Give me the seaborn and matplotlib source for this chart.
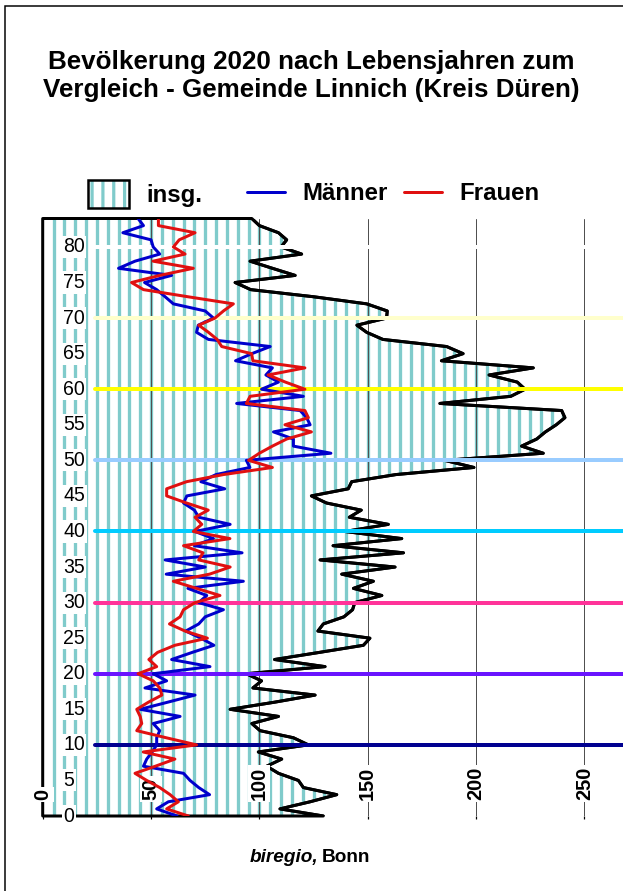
# Bevölkerung 2020 nach Lebensjahren - Gemeinde Linnich
import numpy as np
import matplotlib
matplotlib.use("Agg")
import matplotlib.pyplot as plt
from matplotlib.patches import Patch, Rectangle
from matplotlib.lines import Line2D
import seaborn as sns

sns.set_style("white")
plt.rcParams['font.family'] = ['Liberation Sans', 'DejaVu Sans']
plt.rcParams['text.color'] = 'black'

DPI = 65


def pt(px):
    # pixel size -> points at the figure dpi
    return px * 72 / DPI


# --- data ---
ages = list(range(85))

total = [129.5, 109.5, 123.4, 135.7, 120.3, 118, 108.8, 103.4, 110.3, 99.5,
         122.6, 115.7, 100.3, 96.5, 108.8, 86.5, 107, 125.7, 97, 101,
         94, 130.3, 107, 127.7, 148, 151, 127, 129.5, 139, 143,
         144, 156.5, 143.4, 152.6, 138, 162.6, 128, 166.5, 134, 165.7,
         139.5, 159.5, 141.5, 147, 131, 124, 141, 142.6, 163, 199,
         185.5, 231, 221, 228, 232, 237, 241, 239.5, 183.3, 216,
         222.6, 219, 206, 226.4, 184, 194, 186.4, 157, 149.5, 145,
         158.7, 159, 149.5, 125, 96, 88.8, 116.5, 106, 95.7, 119.5,
         110, 112.6, 108.8, 100, 96.5]

men = [62, 52.6, 58, 77, 72, 68, 65, 46.5, 48, 50.5,
       52.6, 52.6, 54, 51, 63.4, 45, 57.7, 70.3, 47.2, 57.2,
       51, 77.2, 59.5, 69, 79, 73, 66, 72, 75, 83.4,
       72, 75.7, 67, 92.6, 57, 75, 56.5, 92, 70, 78.8,
       70.3, 86.5, 72, 70, 65, 66.5, 84, 73, 80, 95.6,
       94, 133, 115.7, 115.7, 106.5, 123.4, 121.8, 118.8, 89.5, 120.3,
       101, 108.8, 103, 106, 89, 96.5, 105, 76.5, 71, 71.8,
       78.8, 75, 60.3, 56.5, 52.6, 47, 59.5, 35, 42.6, 54,
       51, 50, 37, 46.5, 44]

women = [67.2, 57.2, 62.6, 58.8, 54, 48, 42.6, 52, 61, 46.4,
         71, 57, 43.4, 45.7, 45, 43.4, 48.8, 55, 54, 51,
         44, 52.6, 49, 53, 61, 76, 65.7, 58.5, 63.4, 65,
         70.3, 81.8, 71, 60.3, 77, 86.5, 72, 74, 65, 86.4,
         69.5, 73.4, 70.3, 76.4, 66.4, 57.2, 57.2, 66.4, 83.4, 106,
         95, 100, 106, 112.6, 124, 111.8, 122.6, 121, 94, 95.7,
         121, 112, 104, 121, 97, 96.4, 82.6, 80.5, 76.5, 72,
         79.5, 83.4, 88, 67, 46.5, 41, 54, 69.5, 51, 65.7,
         60.3, 63, 70.3, 53.4, 53.4]

x_ticks = [0, 50, 100, 150, 200, 250]
y_ticks = list(range(0, 85, 5))
ref_ages = [10, 20, 30, 40, 50, 60, 70, 80]
ref_colors = ['#000090', '#6a14ff', '#ff3399', '#00ccff',
              '#99ccff', '#ffff00', '#ffffcc', '#ffffff']

teal = '#80cbcb'
plt.rcParams['hatch.linewidth'] = pt(3.2)
plt.rcParams['hatch.color'] = teal

fig = plt.figure(figsize=(623 / DPI, 891 / DPI), dpi=DPI)
ax = fig.add_axes([42.7 / 623, 75 / 891, 580.3 / 623, 597.5 / 891])
xmax = 267.8
ax.set_xlim(0, xmax)
ax.set_ylim(0, 84)

# --- total as striped area (stripes every 5 units, clipped to the area) ---
area = ax.fill_betweenx(ages, 0, total, facecolor='white', linewidth=0,
                        zorder=1)
stripes = ax.vlines(np.arange(5, 270, 5), 0, 84, color=teal, lw=pt(3.3),
                    zorder=1.5)
stripes.set_clip_path(area.get_paths()[0], ax.transData)
ax.fill_betweenx(ages, 0, total, facecolor='none', edgecolor='black',
                 linewidth=pt(3), joinstyle='round', zorder=3, clip_on=False)

# grid lines
for v in x_ticks[1:]:
    ax.axvline(v, color='#505050', lw=pt(1), zorder=2)

# coloured decade lines
for a, c in zip(ref_ages, ref_colors):
    ax.axhline(a, xmin=24 / xmax, xmax=1, color=c, lw=pt(4), zorder=4)

# lines
sns.lineplot(x=total, y=ages, orient='y', sort=False, color='black',
             lw=pt(3), ax=ax, zorder=3)
sns.lineplot(x=men, y=ages, orient='y', sort=False, color='#0000cc',
             lw=pt(3), ax=ax, zorder=6)
sns.lineplot(x=women, y=ages, orient='y', sort=False, color='#e01010',
             lw=pt(3), ax=ax, zorder=6)

# axes styling
sns.despine(ax=ax, left=True, bottom=True)
ax.set_xticks(x_ticks)
ax.set_yticks([])
ax.tick_params(axis='x', bottom=True, direction='out', length=pt(3),
               width=pt(1.2), color='black', labelbottom=False)
ax.set_xlabel('')
ax.set_ylabel('')

box = dict(facecolor='white', edgecolor='none', pad=pt(1.5))
for v in x_ticks:
    ax.text(v, 2.25, str(v), rotation=90, ha='center', va='bottom',
            fontsize=pt(20), fontweight='bold', bbox=box, zorder=5,
            clip_on=False)
for a in y_ticks:
    ax.text(9.4, a, str(a), ha='left', va='center', fontsize=pt(19.5),
            bbox=box, zorder=5, clip_on=False)

# title
fig.text(0.5, 1 - 76 / 891,
         "Bevölkerung 2020 nach Lebensjahren zum\nVergleich - Gemeinde Linnich (Kreis Düren)",
         ha='center', va='center', fontsize=pt(26), fontweight='bold',
         linespacing=1.2)

# legend
area_handle = (Patch(facecolor='white', edgecolor=teal, hatch='|', linewidth=0),
               Patch(facecolor='none', edgecolor='black', linewidth=pt(2.5)))
fig.legend(handles=[area_handle], labels=['insg.'], loc='center left',
           bbox_to_anchor=(88 / 623, 1 - 194 / 891), frameon=False,
           prop=dict(weight='bold', size=pt(24)),
           handlelength=41 / 24, handleheight=35 / 24,
           handletextpad=17 / 24, borderpad=0, borderaxespad=0)
line_handles = [Line2D([], [], color='#0000cc', lw=pt(3)),
                Line2D([], [], color='#e01010', lw=pt(3))]
fig.legend(handles=line_handles, labels=['Männer', 'Frauen'], ncol=2,
           loc='center left', bbox_to_anchor=(247 / 623, 1 - 194 / 891),
           frameon=False, prop=dict(weight='bold', size=pt(24)),
           handlelength=38 / 24, handletextpad=17 / 24, columnspacing=17 / 24,
           borderpad=0, borderaxespad=0)

# source
fig.text(318 / 623, 1 - 857 / 891, "biregio,", ha='right', va='center',
         fontsize=pt(19), fontweight='bold', style='italic')
fig.text(322 / 623, 1 - 857 / 891, "Bonn", ha='left', va='center',
         fontsize=pt(19), fontweight='bold')

# outer frame
fig.add_artist(Rectangle((5 / 623, -0.01), 2, (891 - 6) / 891 + 0.01,
                         transform=fig.transFigure, fill=False,
                         edgecolor='black', lw=pt(1.5)))

fig.savefig("out.png", dpi=DPI)
